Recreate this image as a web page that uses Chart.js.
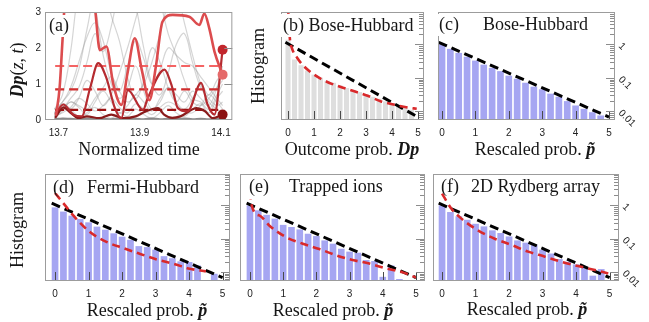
<!DOCTYPE html>
<html><head><meta charset="utf-8">
<script src="https://cdn.jsdelivr.net/npm/chart.js@4.4.1/dist/chart.umd.min.js"></script>
<style>
html,body{margin:0;padding:0;background:#fff;width:649px;height:322px;overflow:hidden;position:relative;}
canvas{position:absolute;}
</style></head><body>
<canvas id="pa"></canvas><canvas id="pb"></canvas><canvas id="pc"></canvas>
<canvas id="pd"></canvas><canvas id="pe"></canvas><canvas id="pf"></canvas>
<script>
// ---------------- data: panel (a) ----------------
const timeTicks = [13.7, 13.9, 14.1];
const dpTicks = [0, 1, 2, 3];
const tA = [13.694,13.703,13.710,13.716,13.740,13.775,13.790,13.802,13.818,13.835,13.855,13.870,13.888,13.905,13.924,13.940,13.956,13.981,14.022,14.047,14.059,14.071,14.084,14.104];
const vA = [0.12,0.9,2.2,3.3,4.5,4.0,3.1,1.94,2.04,1.0,0.42,1.3,2.27,1.4,0.55,1.5,2.73,2.92,2.87,2.64,2.96,2.56,1.9,1.26];
const tB = [13.692,13.712,13.737,13.757,13.778,13.798,13.818,13.839,13.855,13.871,13.908,13.920,13.961,13.978,13.994,14.018,14.051,14.067,14.084,14.104];
const vB = [0.15,0.43,0.15,0.10,0.89,1.58,1.17,0.33,0.05,0.83,0.28,0.61,1.4,0.98,0.33,0.24,1.03,0.43,0.15,1.95];
const tC = [13.692,13.712,13.730,13.750,13.770,13.800,13.830,13.860,13.890,13.915,13.945,13.960,13.980,14.000,14.040,14.060,14.080,14.104];
const vC = [0.06,0.35,0.20,0.05,0.10,0.05,0.15,0.05,0.10,0.24,0.33,0.15,0.06,0.10,0.33,0.25,0.05,0.15];
const meanLevels = [1.5, 0.85, 0.28];
const meanSpan = [13.692, 14.104];
const endT = [14.104, 14.104, 14.104];
const endV = [1.26, 1.95, 0.15];
const gT = [13.69,13.71,13.73,13.75,13.77,13.79,13.81,13.83,13.85,13.87,13.89,13.91,13.93,13.95,13.97,13.99,14.01,14.03,14.05,14.07,14.09,14.104];
const grey0 = [0.02,0.04,0.03,0.02,0.04,0.02,0.03,0.02,0.04,0.02,0.03,0.02,0.04,0.02,0.03,0.02,0.04,0.02,0.03,0.02,0.03,0.02];
const grey1 = [0.15,0.45,0.3,0.1,0.2,0.35,0.15,0.05,0.2,0.1,0.3,0.15,0.05,0.2,0.4,0.2,0.1,0.3,0.45,0.2,0.6,0.8];
const grey2 = [0.3,0.7,1.9,3.6,4.2,3.2,1.8,1.0,0.6,0.9,1.5,0.8,0.3,0.5,0.9,0.5,0.3,0.6,1.0,0.7,1.1,1.3];
const grey3 = [0.2,0.5,0.8,1.4,2.5,3.5,3.8,2.9,2.2,1.2,0.6,1.1,2.0,1.6,0.9,0.5,0.8,0.5,0.4,0.6,0.9,1.1];
const grey4 = [0.1,0.3,0.6,0.9,1.6,2.4,1.9,2.6,3.6,4.0,3.2,2.0,1.0,0.7,1.3,2.1,2.4,1.6,0.9,0.6,0.4,0.5];
const grey5 = [0.2,0.4,0.3,0.6,1.1,0.8,0.4,0.7,1.3,2.0,2.8,3.6,3.9,3.3,2.4,1.8,1.1,0.6,0.5,0.3,0.7,1.0];
const grey6 = [0.3,0.5,0.9,1.6,2.3,2.7,2.2,1.3,0.8,1.5,2.2,1.7,1.0,1.4,2.0,1.8,1.6,1.5,1.2,0.9,0.6,0.4];
const grey7 = [0.1,0.3,0.5,0.4,0.3,0.6,0.9,1.2,0.8,0.5,0.7,1.0,1.6,2.4,3.2,3.5,2.7,1.8,1.0,0.5,0.3,0.2];
const grey8 = [0.05,0.25,0.5,0.35,0.15,0.5,0.8,0.5,0.2,0.4,0.7,0.5,0.25,0.6,0.9,0.7,0.5,0.8,0.6,0.4,0.9,1.5];
const grey9 = [0.1,0.2,0.35,0.6,0.45,0.25,0.4,0.6,0.35,0.2,0.45,0.3,0.15,0.35,0.5,0.4,0.25,0.2,0.4,0.7,0.5,0.3];

// ---------------- data: histograms ----------------
const pBins = [0,0.25,0.5,0.75,1,1.25,1.5,1.75,2,2.25,2.5,2.75,3,3.25,3.5,3.75,4,4.25,4.5,4.75];
const histDp = [1.38,0.355,0.24,0.166,0.126,0.102,0.083,0.072,0.060,0.050,0.044,0.038,0.032,0.0275,0.024,0.020,0.017,0.015,0.0132,0.0112];
const histBH = [1.0,0.74,0.56,0.43,0.33,0.25,0.20,0.16,0.117,0.095,0.072,0.055,0.046,0.034,0.0275,0.0204,0.0151,0.012,0.0095,0.0076];
const histFH = [0.87,0.65,0.49,0.39,0.31,0.23,0.186,0.145,0.115,0.093,0.060,0.056,0.047,0.030,0.026,0.021,0.020,0.0158,null,0.0089];
const histTI = [1.0,0.71,0.52,0.40,0.26,0.224,0.19,0.141,0.12,0.089,0.071,0.050,0.041,0.038,0.023,0.0214,0.0072,0.0158,0.0062,null];
const histRY = [1.0,0.63,0.47,0.37,0.28,0.234,0.178,0.148,0.117,0.089,0.076,0.065,0.047,0.036,0.0245,0.0204,0.017,0.0145,0.0078,0.0123];
const expX = [-0.1, 5.0];
const expY = [1.16, 0.0068];
const redX_Dp = [0.0,0.07,0.15,0.35,0.61,1.0,1.51,2.03,2.55,3.06,3.58,4.1,4.6,4.95];
const redY_Dp = [14,1.55,0.78,0.40,0.224,0.126,0.076,0.054,0.040,0.0295,0.020,0.0158,0.0132,0.012];
const redX_FH = [0.0,0.3,0.55,1.05,1.55,2.04,2.54,3.03,3.53,4.02,4.5];
const redY_FH = [2.34,1.0,0.49,0.155,0.079,0.052,0.035,0.024,0.0178,0.0126,0.0105];
const redX_TI = [0.0,0.03,0.28,0.58,1.08,1.59,2.09,2.59,3.09,3.59,4.1,4.6,5.0];
const redY_TI = [16,1.26,0.5,0.25,0.112,0.071,0.049,0.032,0.023,0.018,0.0129,0.0098,0.0068];
const redX_RY = [0.0,0.28,0.58,1.07,1.57,2.07,2.57,3.07,3.56,4.06,4.56,4.96];
const redY_RY = [2.24,0.79,0.40,0.178,0.10,0.065,0.041,0.029,0.0204,0.0151,0.0115,0.0091];
const pTicks = [0,1,2,3,4,5];
const logLabels = [0.01, 0.1, 1];

// ---------------- helpers ----------------
const SERIF = '"Liberation Serif","Times New Roman",serif';
const F = '18px ' + SERIF, FI = 'italic 18px ' + SERIF, FBI = 'bold italic 18px ' + SERIF;
const TICKFONT = {family:'"Liberation Sans", Arial, sans-serif', size:10};
const XH = 22;
const fitX = s => { s.height = XH; };
const fitY = w => (s => { s.width = w; });
const pts = (xs, ys) => xs.map((x,i)=>({x:x, y:ys[i]}));
const logMinor = [];
[0.001,0.01,0.1,1].forEach(d => { for (let k=2;k<=9;k++) logMinor.push(d*k); });

function drawRuns(ctx, runs, x, y, align, rot, bg) {
  ctx.save();
  ctx.translate(x, y); if (rot) ctx.rotate(rot);
  let w = 0; const ws = [];
  runs.forEach(r => { ctx.font = r[1]; const m = ctx.measureText(r[0]).width; ws.push(m); w += m; });
  let sx = align === 'center' ? -w/2 : 0;
  if (bg) { ctx.fillStyle = '#fff'; ctx.fillRect(sx - bg[0], -bg[1], w + 2*bg[0], bg[1] + bg[2]); }
  ctx.fillStyle = '#161616'; ctx.textBaseline = 'middle'; ctx.textAlign = 'left';
  runs.forEach((r,i) => { ctx.font = r[1]; ctx.fillText(r[0], sx, 0); sx += ws[i]; });
  ctx.restore();
}

const deco = {
  id: 'deco',
  afterDatasetsDraw(chart, _a, o) {
    const ctx = chart.ctx, a = chart.chartArea, xs = chart.scales.x, ys = chart.scales.y;
    ctx.save();
    ctx.lineWidth = 1;
    ctx.strokeStyle = o.bottomColor || '#555';
    (o.bottomTicks || []).forEach(v => {
      const px = Math.round(xs.getPixelForValue(v)) + 0.5;
      ctx.beginPath(); ctx.moveTo(px, a.bottom); ctx.lineTo(px, a.bottom - 9); ctx.stroke();
    });
    ctx.strokeStyle = '#8c8c8c';
    (o.rightTicks || []).forEach(tk => {
      const v = tk[0], len = tk[1];
      if (v < ys.min || v > ys.max) return;
      const py = Math.round(ys.getPixelForValue(v)) + 0.5;
      ctx.beginPath(); ctx.moveTo(a.right, py); ctx.lineTo(a.right - len, py); ctx.stroke();
    });
    ctx.strokeStyle = '#9c9c9c';
    ctx.strokeRect(a.left + 0.5, a.top + 0.5, a.right - a.left - 1, a.bottom - a.top - 1);
    ctx.restore();
  },
  afterDraw(chart, _a, o) {
    const ctx = chart.ctx;
    (o.texts || []).forEach(t => drawRuns(ctx, t.runs, t.x - o.ox, t.y - o.oy, t.align, t.rot, t.bg));
  }
};
Chart.register(deco);

function place(id, r) {
  const c = document.getElementById(id);
  c.width = r[2]; c.height = r[3];
  c.style.left = r[0] + 'px'; c.style.top = r[1] + 'px';
  c.style.width = r[2] + 'px'; c.style.height = r[3] + 'px';
  return c;
}
// padding so that chartArea equals box b, given axis sizes
function padFor(r, b, yw, ySide) {
  const p = {left: b[0]-r[0], top: b[1]-r[1], right: (r[0]+r[2]) - b[2], bottom: (r[1]+r[3]) - b[3] - XH};
  if (ySide === 'left') p.left -= yw; else p.right -= yw;
  return p;
}
const majorTicks = logLabels.map(v => [v, 9]);
const minorTicks = logMinor.map(v => [v, 5]);

// ---------------- panel (a) ----------------
(function(){
  const r = [0,0,238,162], b = [45,12,233,120], yw = 40;
  const greys = [grey1,grey2,grey3,grey4,grey5,grey6,grey7,grey8,grey9];
  const ds = [];
  ds.push({data: pts(endT, endV), showLine:false, pointRadius:5, pointBorderWidth:0,
    pointBackgroundColor:['#e56a6a','#c2262c','#8b1212'], order:0, clip:false});
  ds.push({data: pts(tA, vA), borderColor:'#dc4c4e', borderWidth:2.6, cubicInterpolationMode:'monotone', order:1});
  ds.push({data: pts(tB, vB), borderColor:'#b52b30', borderWidth:2.2, cubicInterpolationMode:'monotone', order:1});
  ds.push({data: pts(tC, vC), borderColor:'#8a1b1b', borderWidth:2.2, cubicInterpolationMode:'monotone', order:1});
  const mc = ['#f46464','#cf2c2c','#9c1212'];
  meanLevels.forEach((m,i) => ds.push({data: pts(meanSpan, [m,m]), borderColor: mc[i], borderWidth:2.2, borderDash:[9,5], order:2}));
  ds.push({data: pts(gT, grey0), borderColor:'rgba(110,110,110,0.8)', borderWidth:2.2, tension:0.4, order:5});
  greys.forEach(g => ds.push({data: pts(gT, g), borderColor:'rgba(150,150,150,0.4)', borderWidth:1.2, tension:0.4, order:5}));
  new Chart(place('pa', r), {
    type:'line', data:{datasets: ds},
    options:{
      responsive:false, animation:false, events:[],
      layout:{padding: padFor(r,b,yw,'left')},
      elements:{point:{radius:0}},
      plugins:{legend:{display:false}, tooltip:{enabled:false},
        deco:{ox:r[0], oy:r[1], rightTicks:[[1,8],[2,8]], bottomTicks:[],
          texts:[
            {runs:[['(a)',F]], x:49, y:26, align:'left', bg:[2,11,11]},
            {runs:[['Normalized time',F]], x:139, y:150, align:'center'},
            {runs:[['Dp',FBI],['(',F],['z',FI],[', ',F],['t',FI],[')',F]], x:18, y:70, align:'center', rot:-Math.PI/2}
          ]}},
      scales:{
        x:{type:'linear', min:13.667, max:14.128, offset:false, afterFit:fitX,
           afterBuildTicks: s => { s.ticks = timeTicks.map(v=>({value:v})); },
           grid:{display:false, drawTicks:false}, border:{display:false},
           ticks:{padding:7, font:TICKFONT, color:'#222', maxRotation:0, autoSkip:false, callback:v=>Number(v).toFixed(1)}},
        y:{type:'linear', min:0, max:3, afterFit:fitY(yw),
           afterBuildTicks: s => { s.ticks = dpTicks.map(v=>({value:v})); },
           grid:{display:false, drawTicks:false}, border:{display:false},
           ticks:{padding:4, font:TICKFONT, color:'#222', autoSkip:false, callback:v=>String(v)}}
      }
    }
  });
})();

// ---------------- histogram panels ----------------
function histPanel(id, r, b, xMin, xMax, yMin, yMax, bars, barColor, barPct, redX, redY, showLogLabels, texts) {
  const yw = (r[0]+r[2]) - b[2] - 1;
  const ds = [];
  if (redX) ds.push({type:'line', data: pts(redX, redY), borderColor:'#d9292b', borderWidth:2.6, borderDash:[8,5], cubicInterpolationMode:'monotone', pointRadius:0, order:1});
  ds.push({type:'line', data: pts(expX, expY), borderColor:'#000', borderWidth:3, borderDash:[9,5], pointRadius:0, order:2});
  ds.push({type:'bar', data: pts(pBins, bars), backgroundColor:barColor, borderWidth:0, barPercentage:barPct, categoryPercentage:1, order:3});
  new Chart(place(id, r), {
    type:'bar', data:{datasets: ds},
    options:{
      responsive:false, animation:false, events:[],
      layout:{padding: padFor(r,b,yw,'right')},
      plugins:{legend:{display:false}, tooltip:{enabled:false},
        deco:{ox:r[0], oy:r[1], bottomTicks:[0,1,2,3,4,5], bottomColor:'#4a4a4a',
          rightTicks: majorTicks.concat(minorTicks), texts: texts}},
      scales:{
        x:{type:'linear', min:xMin, max:xMax, offset:false, afterFit:fitX,
           afterBuildTicks: s => { s.ticks = pTicks.map(v=>({value:v})); },
           grid:{display:false, drawTicks:false}, border:{display:false},
           ticks:{padding:7, font:TICKFONT, color:'#222', maxRotation:0, autoSkip:false, callback:v=>String(v)}},
        y:{type:'logarithmic', position:'right', min:yMin, max:yMax, afterFit:fitY(yw),
           afterBuildTicks: s => { s.ticks = logLabels.map(v=>({value:v})); },
           grid:{display:false, drawTicks:false}, border:{display:false},
           ticks:{display:showLogLabels, padding:5, font:TICKFONT, color:'#222', autoSkip:false, minRotation:-45, maxRotation:-45, callback:v=>String(v)}}
      }
    }
  });
}
const BLUE = 'rgb(166,166,242)', GREY = 'rgb(222,222,222)';
const pTilde = [['Rescaled prob. ',F],['p\u0303',FBI]];
const TOPMIN = 0.00557, TOPMAX = 9.3, BOTMIN = 0.0054, BOTMAX = 8.7;

histPanel('pb', [236,0,196,162], [281,12,424,120], -0.27, 5.23, TOPMIN, TOPMAX, histDp, GREY, 0.78, redX_Dp, redY_Dp, false, [
  {runs:[['(b) Bose-Hubbard',F]], x:283, y:26, align:'left', bg:[2,12,11]},
  {runs:[['Outcome prob. ',F],['Dp',FBI]], x:352, y:150, align:'center'},
  {runs:[['Histogram',F]], x:259, y:66, align:'center', rot:-Math.PI/2}
]);
histPanel('pc', [432,0,217,162], [438,12,615,120], -0.12, 5.18, TOPMIN, TOPMAX, histBH, BLUE, 0.8, null, null, true, [
  {runs:[['(c)',F]], x:439, y:25, align:'left', bg:[1,11,11]},
  {runs:[['Bose-Hubbard',F]], x:483, y:25, align:'left', bg:[2,11,11]},
  {runs:pTilde, x:535, y:150, align:'center'}
]);
histPanel('pd', [0,160,236,162], [45,174,230,281], -0.3, 5.22, BOTMIN, BOTMAX, histFH, BLUE, 0.8, redX_FH, redY_FH, false, [
  {runs:[['(d)',F]], x:53, y:188, align:'left', bg:[2,10,5]},
  {runs:[['Fermi-Hubbard',F]], x:87, y:188, align:'left', bg:[2,10,5]},
  {runs:pTilde, x:147, y:311, align:'center'},
  {runs:[['Histogram',F]], x:18, y:230, align:'center', rot:-Math.PI/2}
]);
histPanel('pe', [236,160,194,162], [240,174,425,281], -0.3, 5.27, BOTMIN, BOTMAX, histTI, BLUE, 0.8, redX_TI, redY_TI, false, [
  {runs:[['(e)',F]], x:249, y:187, align:'left', bg:[2,12,12]},
  {runs:[['Trapped ions',F]], x:289, y:187, align:'left', bg:[2,12,12]},
  {runs:pTilde, x:333, y:311, align:'center'}
]);
histPanel('pf', [430,160,219,162], [433,174,619,281], -0.27, 5.28, BOTMIN, BOTMAX, histRY, BLUE, 0.8, redX_RY, redY_RY, true, [
  {runs:[['(f)',F]], x:441, y:187, align:'left', bg:[2,10,5]},
  {runs:[['2D Rydberg array',F]], x:471, y:187, align:'left', bg:[2,10,5]},
  {runs:pTilde, x:527, y:310, align:'center'}
]);
</script>
</body></html>
